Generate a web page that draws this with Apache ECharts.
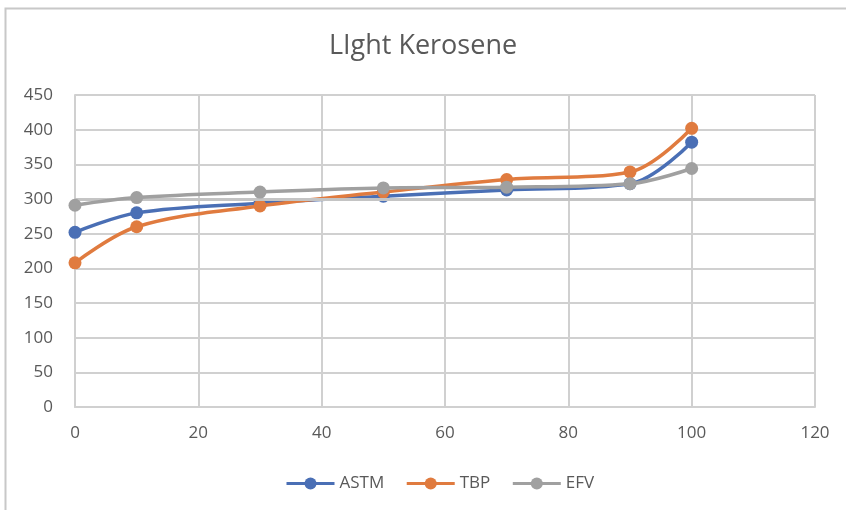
<!DOCTYPE html>
<html>
<head>
<meta charset="utf-8">
<script src="https://cdn.jsdelivr.net/npm/echarts@6/dist/echarts.min.js"></script>
<style>
  html, body { margin: 0; padding: 0; background: #fff; }
  #chart { width: 846px; height: 510px; }
</style>
</head>
<body>
<div id="chart"></div>
<script>
// Distillation curves for light kerosene: temperature vs. percent distilled
const percentDistilled = [0, 10, 30, 50, 70, 90, 100];
const astm = [252, 280, 294, 304, 313, 322, 382];
const tbp  = [208, 260, 290, 310, 328, 339, 402];
const efv  = [291, 302, 310, 316, 317, 322, 344];
const xTicks = [0, 20, 40, 60, 80, 100, 120];
const yTicks = [0, 50, 100, 150, 200, 250, 300, 350, 400, 450];

const seriesNames = ['ASTM', 'TBP', 'EFV'];
const seriesValues = [astm, tbp, efv];
const colors = ['#4a6fb5', '#e07b3f', '#a0a0a0'];

const textColor = '#595959';
const gridColor = '#d0d0d0';
const font = '"Open Sans", "Noto Sans", sans-serif';

const chart = echarts.init(document.getElementById('chart'));
chart.setOption({
  animation: false,
  color: colors,
  title: {
    text: 'LIght Kerosene',
    left: 'center',
    top: 28,
    textStyle: { color: textColor, fontSize: 27, fontWeight: 'normal', fontFamily: font }
  },
  graphic: [{
    type: 'rect',
    shape: { x: 5.5, y: 8.5, width: 900, height: 600 },
    style: { fill: 'none', stroke: '#c8c8c8', lineWidth: 2 },
    silent: true
  }],
  legend: {
    top: 470,
    left: 280,
    itemWidth: 48,
    itemHeight: 15,
    itemGap: 21,
    lineStyle: { width: 3 },
    textStyle: { color: textColor, fontSize: 17, fontFamily: font },
    data: seriesNames
  },
  grid: { left: 75, right: 31, top: 95, bottom: 103, containLabel: false },
  xAxis: {
    type: 'value',
    min: xTicks[0],
    max: xTicks[xTicks.length - 1],
    interval: xTicks[1] - xTicks[0],
    axisLine: { show: true, lineStyle: { color: gridColor, width: 2 } },
    axisTick: { show: false },
    axisLabel: { color: textColor, fontSize: 17, fontFamily: font, margin: 18 },
    splitLine: { show: true, lineStyle: { color: gridColor, width: 2 } }
  },
  yAxis: {
    type: 'value',
    min: yTicks[0],
    max: yTicks[yTicks.length - 1],
    interval: yTicks[1] - yTicks[0],
    axisLine: { show: true, lineStyle: { color: gridColor, width: 2 } },
    axisTick: { show: false },
    axisLabel: { color: textColor, fontSize: 17, fontFamily: font, margin: 22 },
    splitLine: { show: true, lineStyle: { color: gridColor, width: 2 } }
  },
  series: seriesNames.map((name, i) => ({
    name: name,
    type: 'line',
    smooth: 0.35,
    symbol: 'circle',
    symbolSize: 13,
    showSymbol: true,
    lineStyle: { width: 3.5, color: colors[i] },
    itemStyle: { color: colors[i] },
    data: percentDistilled.map((x, j) => [x, seriesValues[i][j]]),
    z: 3 + i
  })).concat([{
    name: 'ref300',
    type: 'line',
    data: [],
    markLine: {
      silent: true,
      symbol: 'none',
      label: { show: false },
      lineStyle: { color: '#c4c4c4', width: 3, type: 'solid' },
      data: [{ yAxis: 300 }]
    }
  }])
});
</script>
</body>
</html>
